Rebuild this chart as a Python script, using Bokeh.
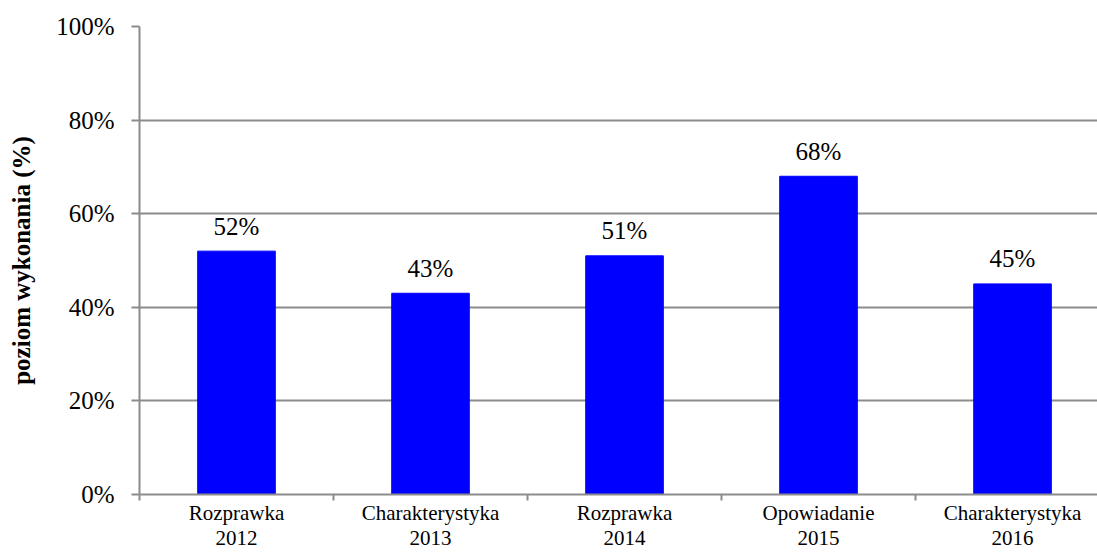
from bokeh.plotting import figure
from bokeh.models import Range1d, FixedTicker, ColumnDataSource
from bokeh.embed import file_html
from bokeh.resources import INLINE
from bokeh.core.properties import value

categories = ["Rozprawka", "Charakterystyka", "Rozprawka", "Opowiadanie", "Charakterystyka"]
years = ["2012", "2013", "2014", "2015", "2016"]
values = [52, 43, 51, 68, 45]
y_ticks = [0, 20, 40, 60, 80, 100]

FONT = "Liberation Serif"
GRAY = "#8c8c8c"

xs = [i + 0.5 for i in range(len(values))]
src = ColumnDataSource(dict(x=xs, top=values, lab=[f"{v}%" for v in values]))

p = figure(width=1097, height=552, output_backend="svg", toolbar_location=None,
           x_range=Range1d(0, 4.938), y_range=Range1d(0, 100),
           min_border_left=139, min_border_right=0, min_border_top=26, min_border_bottom=58)
p.outline_line_color = None
p.background_fill_color = "white"
p.border_fill_color = "white"

p.vbar(x="x", top="top", width=0.4, bottom=0, source=src, color="#0000FF")
p.text(x="x", y="top", text="lab", source=src, text_align="center", text_baseline="alphabetic",
       y_offset=-25, text_font=value(FONT), text_font_size="25px", text_color="black")

# x axis
xa = p.xaxis[0]
xa.ticker = FixedTicker(ticks=xs, minor_ticks=list(range(len(values) + 1)))
xa.major_label_overrides = {x: f"{c}\n{y}" for x, c, y in zip(xs, categories, years)}
xa.major_tick_line_color = None
xa.major_tick_out = 0
xa.major_tick_in = 0
xa.minor_tick_line_color = GRAY
xa.minor_tick_line_width = 2
xa.minor_tick_out = 6
xa.minor_tick_in = 0
xa.axis_line_color = GRAY
xa.axis_line_width = 2
xa.major_label_text_font = FONT
xa.major_label_text_font_size = "21px"
xa.major_label_text_line_height = 1.05
xa.major_label_text_color = "black"
xa.major_label_standoff = 0
p.xgrid.grid_line_color = None

# y axis
ya = p.yaxis[0]
ya.ticker = FixedTicker(ticks=y_ticks)
ya.major_label_overrides = {t: f"{t}%" for t in y_ticks}
ya.minor_tick_line_color = None
ya.major_tick_line_color = GRAY
ya.major_tick_line_width = 2
ya.major_tick_out = 8
ya.major_tick_in = 0
ya.axis_line_color = GRAY
ya.axis_line_width = 2
ya.major_label_text_font = FONT
ya.major_label_text_font_size = "25px"
ya.major_label_text_color = "black"
ya.major_label_standoff = 17
ya.axis_label = "poziom wykonania (%)"
ya.axis_label_text_font = FONT
ya.axis_label_text_font_size = "25px"
ya.axis_label_text_font_style = "bold"
ya.axis_label_text_color = "black"
ya.axis_label_standoff = 18

p.ygrid.ticker = FixedTicker(ticks=y_ticks)
p.ygrid.grid_line_color = GRAY
p.ygrid.grid_line_width = 2

open("out.html", "w").write(file_html(p, INLINE))
